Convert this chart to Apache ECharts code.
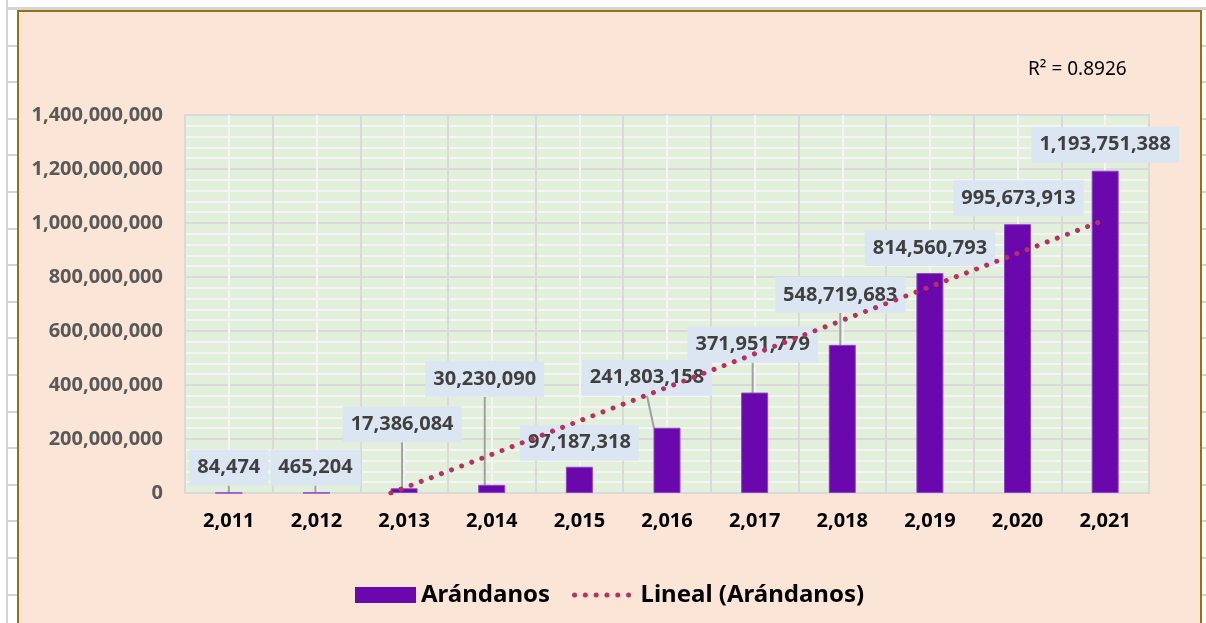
<!DOCTYPE html>
<html>
<head>
<meta charset="utf-8">
<title>Arándanos</title>
<script src="https://cdn.jsdelivr.net/npm/echarts@6/dist/echarts.min.js"></script>
<style>
  html, body { margin: 0; padding: 0; background: #fff; }
  #sheet {
    position: absolute; left: 6px; top: 0; width: 1200px; height: 623px;
    border-left: 2px solid #d4d4d4;
    background-image: repeating-linear-gradient(to bottom, #d4d4d4 0, #d4d4d4 2px, transparent 2px, transparent 36.6px);
    background-position: 0 8px;
  }
  #frame {
    position: absolute; left: 17px; top: 10px; width: 1181px; height: 620px;
    border: 2px solid #947016; background: #fbe5d6;
  }
  #main { position: absolute; left: 0; top: 0; width: 1206px; height: 623px; }
</style>
</head>
<body>
<div id="sheet"></div>
<div id="frame"></div>
<div id="main"></div>
<script>
// datos de la grafica
var years = ['2,011', '2,012', '2,013', '2,014', '2,015', '2,016', '2,017', '2,018', '2,019', '2,020', '2,021'];
var values = [84474, 465204, 17386084, 30230090, 97187318, 241803158, 371951779, 548719683, 814560793, 995673913, 1193751388];
// linea de tendencia (inicio y fin)
var trendYears = [2012.85, 2021];
var trendValues = [0, 1012000000];
var rSquared = '0.8926';

// desplazamiento de cada etiqueta respecto a su barra
var labelShift = [[0, -2], [-1, -2], [-2, -41], [-7, -83], [0, -1], [-20, -27], [-2, -25], [-2, -27], [0, -2], [1, -3], [0, -3]];
var withLine = [true, true, true, true, false, true, true, true, false, false, false];

var trendColor = '#b5325f';
var trendStyle = { color: trendColor, width: 5, type: [0.01, 10.8], cap: 'round' };

function fmt(v) {
  return Number(v).toLocaleString('en-US');
}

var barData = [];
for (var i = 0; i < values.length; i++) {
  barData.push({ value: values[i], labelLine: { show: withLine[i] } });
}
// eje x auxiliar: cada año ocupa 2 unidades, centro en 2i+1
var trendData = [];
for (var j = 0; j < trendYears.length; j++) {
  trendData.push([(trendYears[j] - 2011) * 2 + 1, trendValues[j]]);
}

var font = 'Noto Sans';
var myChart = echarts.init(document.getElementById('main'));
var option = {
  animation: false,
  title: {
    text: 'R² = ' + rSquared,
    left: 1023,
    top: 55,
    textStyle: { fontFamily: font, fontSize: 19, fontWeight: 'normal', color: '#000' }
  },
  legend: {
    left: 350,
    top: 578,
    itemWidth: 61,
    itemHeight: 16,
    itemGap: 22,
    textStyle: { fontFamily: font, fontSize: 24, fontWeight: 'bold', color: '#000' },
    data: [
      { name: 'Arándanos', icon: 'rect', itemStyle: { borderWidth: 0 } },
      { name: 'Lineal (Arándanos)', itemStyle: { opacity: 0 }, lineStyle: trendStyle }
    ]
  },
  grid: {
    left: 185, top: 115, width: 964, height: 378,
    show: true, backgroundColor: '#e2efda', borderColor: '#d9d9d9', borderWidth: 2
  },
  xAxis: [
    {
      type: 'category',
      data: years,
      axisLine: { show: false },
      axisTick: { show: false },
      splitLine: { show: false },
      axisLabel: { margin: 18, fontFamily: font, fontSize: 20, fontWeight: 'bold', color: '#000' }
    },
    {
      type: 'value',
      position: 'top',
      min: 0, max: 22, interval: 2,
      axisLine: { show: false },
      axisTick: { show: false },
      axisLabel: { show: false },
      splitLine: { show: true, lineStyle: { color: '#d9d9d9', width: 2 } },
      minorTick: { show: false, splitNumber: 2 },
      minorSplitLine: { show: true, lineStyle: { color: '#f4f4f4', width: 2 } }
    }
  ],
  yAxis: {
    type: 'value',
    min: 0, max: 1400000000, interval: 200000000,
    axisLine: { show: false },
    axisTick: { show: false },
    axisLabel: {
      margin: 22, fontFamily: font, fontSize: 20, fontWeight: 'bold', color: '#595959',
      formatter: function (v) { return fmt(v); }
    },
    splitLine: { lineStyle: { color: '#d9d9d9', width: 2 } },
    minorTick: { show: false, splitNumber: 5 },
    minorSplitLine: { show: true, lineStyle: { color: '#f4f4f4', width: 2 } }
  },
  series: [
    {
      name: 'Arándanos',
      type: 'bar',
      barWidth: 27,
      data: barData,
      itemStyle: { color: '#6a08ad', borderColor: '#8e44c8', borderWidth: 1 },
      label: {
        show: true,
        position: 'top',
        distance: 5,
        fontFamily: font, fontSize: 20, fontWeight: 'bold', color: '#404040',
        backgroundColor: '#dce6f2',
        padding: [7, 8],
        lineHeight: 22,
        formatter: function (p) { return fmt(p.value); }
      },
      labelLine: { show: true, lineStyle: { color: '#a0a0a0', width: 2 } },
      labelLayout: function (params) {
        var s = labelShift[params.dataIndex];
        return { dx: s[0], dy: s[1] };
      }
    },
    {
      name: 'Lineal (Arándanos)',
      type: 'line',
      xAxisIndex: 1,
      z: 5,
      symbol: 'none',
      data: trendData,
      itemStyle: { color: trendColor },
      lineStyle: trendStyle
    }
  ]
};
myChart.setOption(option);
</script>
</body>
</html>
